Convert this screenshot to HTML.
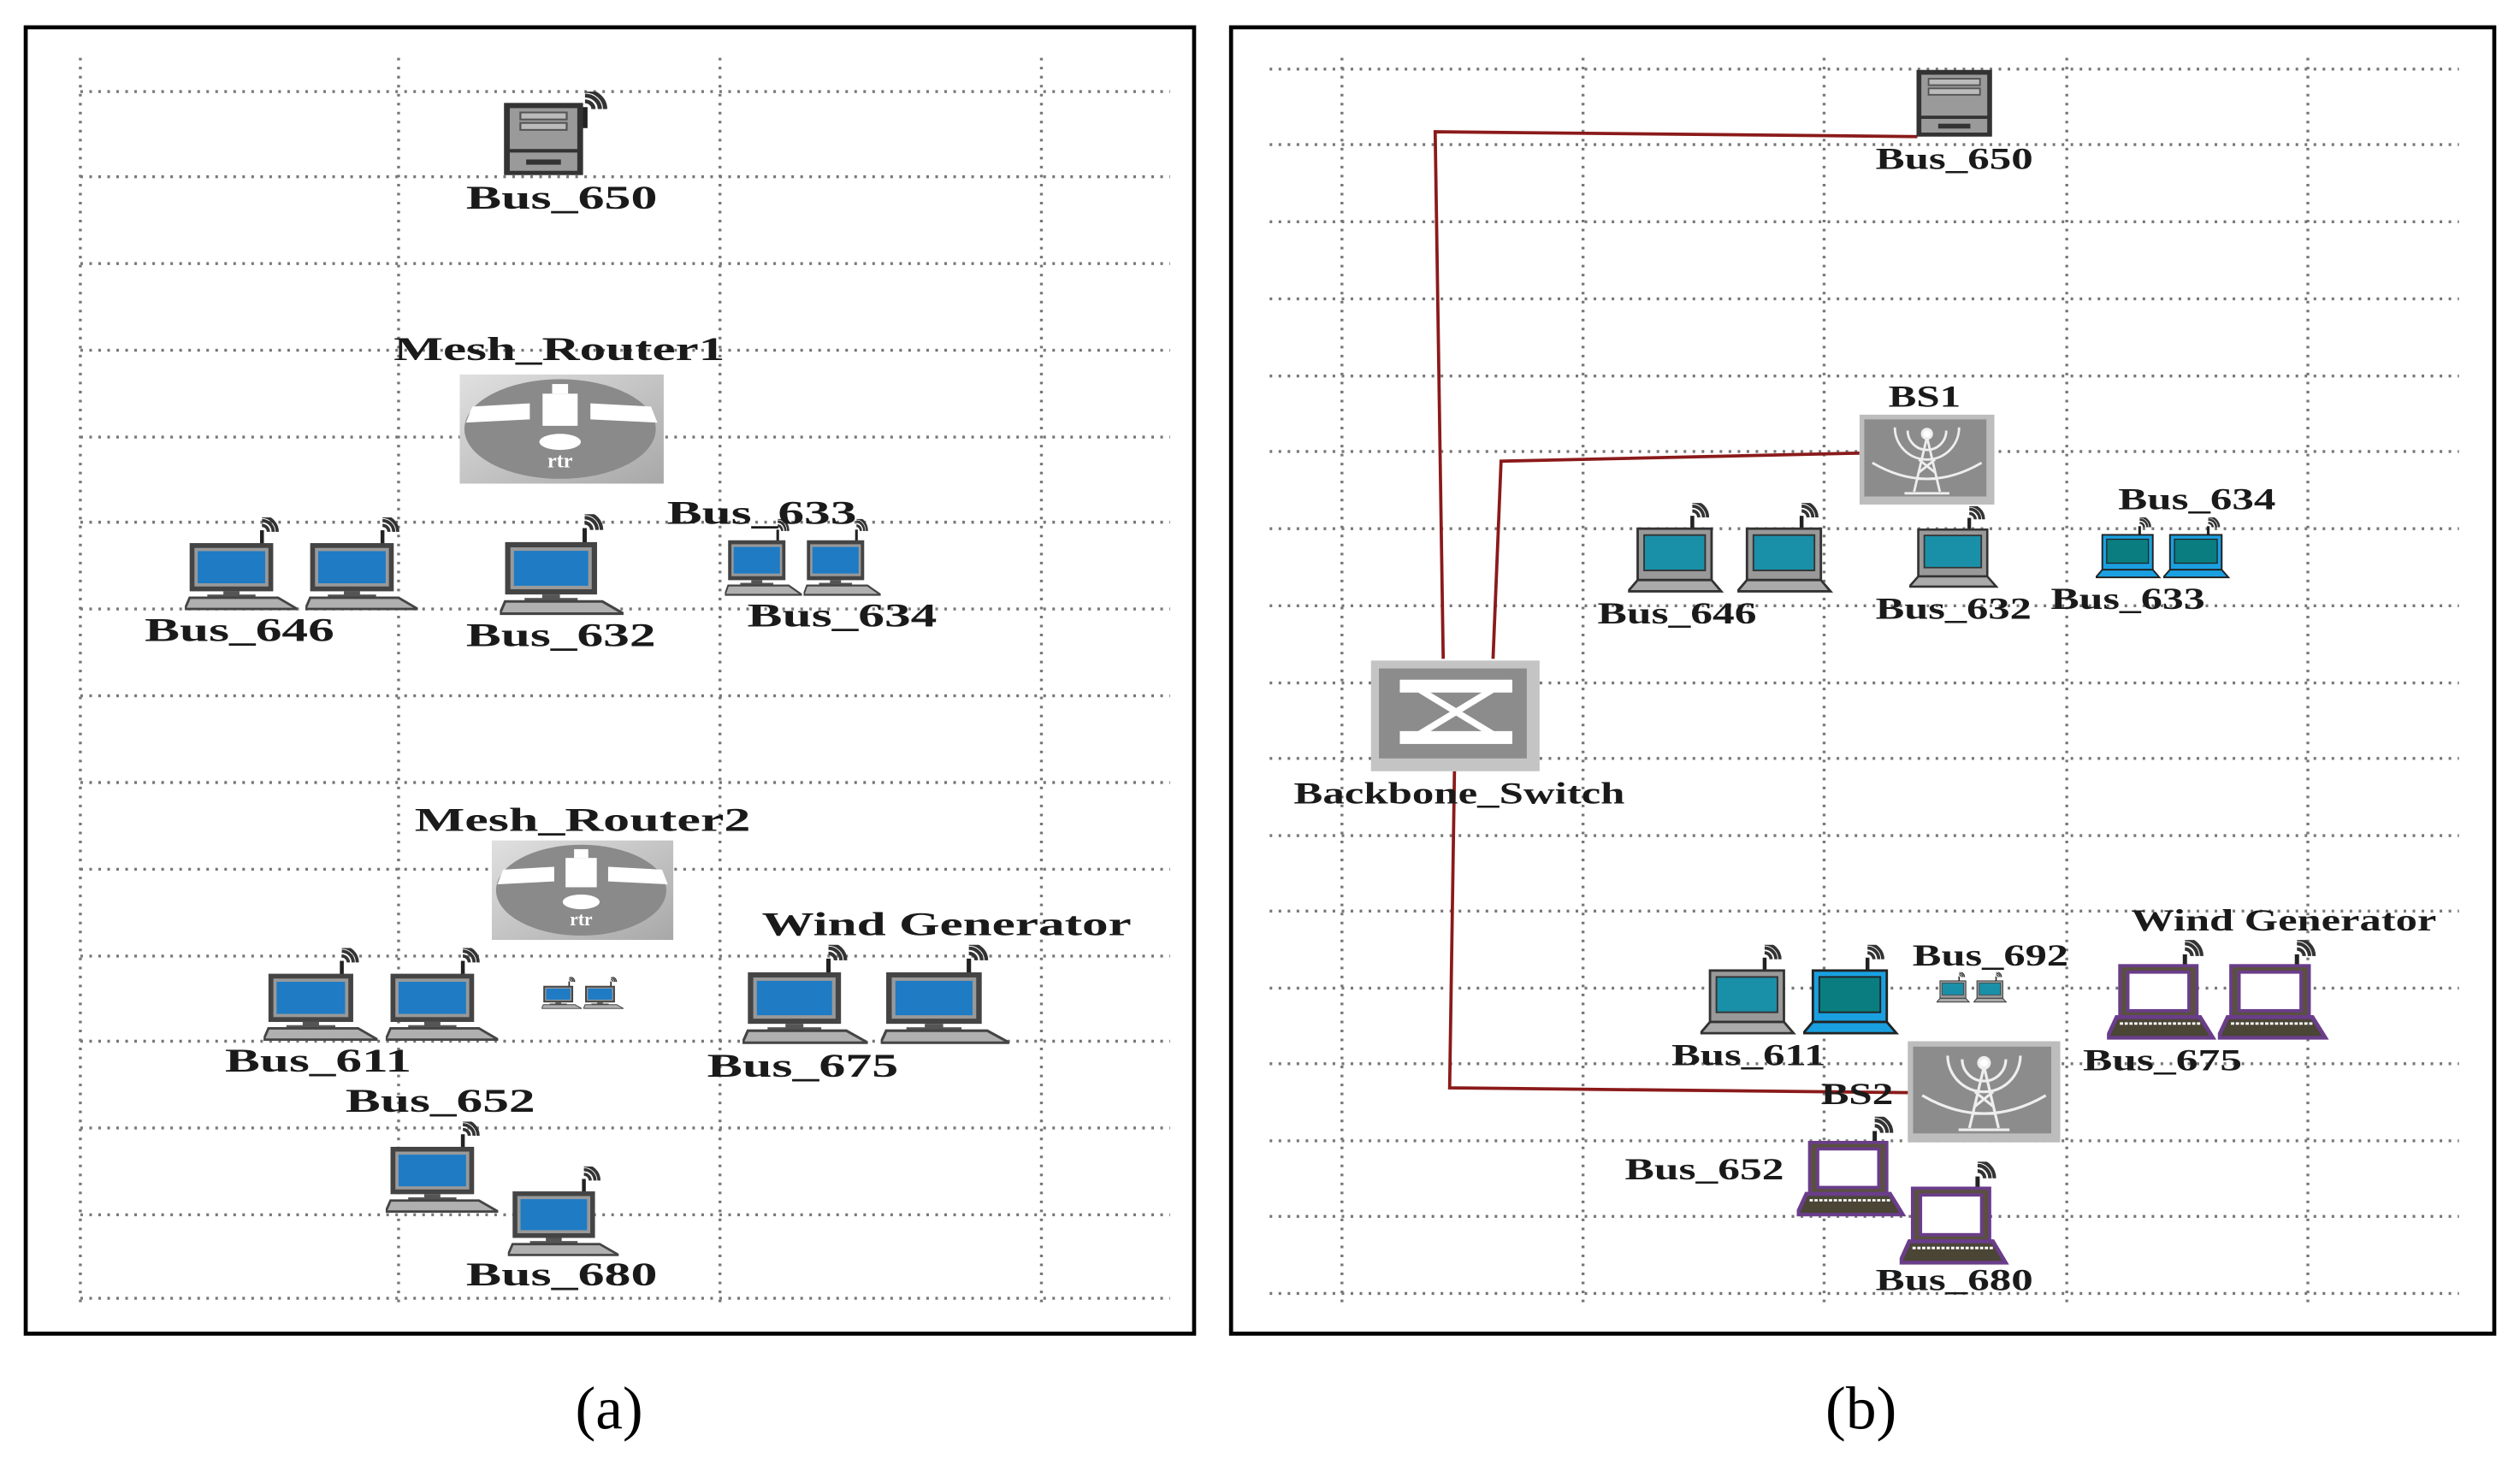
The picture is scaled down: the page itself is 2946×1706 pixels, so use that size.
<!DOCTYPE html>
<html><head><meta charset="utf-8"><style>
html,body{margin:0;padding:0;background:#fff}
svg{display:block}
text{font-family:"Liberation Serif",serif;font-weight:bold;fill:#1a1a1a}
</style></head><body>
<svg width="2946" height="1706" viewBox="0 0 1568 908" preserveAspectRatio="none" xmlns="http://www.w3.org/2000/svg">
<defs>
<symbol id="arcs" viewBox="0 0 20 20">
<line x1="5" y1="9" x2="5" y2="20" stroke="#222" stroke-width="2.4"/>
<path d="M5 6 a4 4 0 0 1 4 4 M5 3 a7 7 0 0 1 7 7 M5 0.5 a9.5 9.5 0 0 1 9.5 9.5" fill="none" stroke="#333" stroke-width="2"/>
</symbol>
<symbol id="pc" viewBox="0 0 70 58" preserveAspectRatio="none">
<use href="#arcs" x="42" y="-1" width="22" height="20"/>
<rect x="3" y="16" width="52" height="30" fill="#444"/>
<rect x="6" y="19" width="46" height="24" fill="#999"/>
<rect x="8" y="21" width="42" height="20" fill="#1e7bc4"/>
<rect x="24" y="46" width="10" height="3" fill="#555"/>
<rect x="14" y="48" width="30" height="2" fill="#555"/>
<polygon points="3,50 58,50 70,57 0,57" fill="#b0b0b0" stroke="#444" stroke-width="1.5"/>
</symbol>
<symbol id="server" viewBox="0 0 60 48" preserveAspectRatio="none">
<use href="#arcs" x="36" y="-1" width="24" height="22"/>
<rect x="2" y="8" width="38" height="39" fill="#9a9a9a" stroke="#333" stroke-width="3"/>
<rect x="9" y="12" width="24" height="4" fill="#bbb" stroke="#555"/>
<rect x="9" y="18" width="24" height="4" fill="#bbb" stroke="#555"/>
<line x1="2" y1="34" x2="40" y2="34" stroke="#333" stroke-width="2"/>
<rect x="12" y="39" width="18" height="3" fill="#333"/>
</symbol>
<symbol id="server2" viewBox="0 0 48 42" preserveAspectRatio="none">
<rect x="2" y="2" width="44" height="39" fill="#9a9a9a" stroke="#333" stroke-width="3"/>
<rect x="8" y="6" width="32" height="4" fill="#bbb" stroke="#555"/>
<rect x="8" y="12" width="32" height="4" fill="#bbb" stroke="#555"/>
<line x1="2" y1="30" x2="46" y2="30" stroke="#333" stroke-width="2"/>
<rect x="14" y="34" width="20" height="3" fill="#333"/>
</symbol>
<linearGradient id="rg" x1="0" y1="0" x2="1" y2="1"><stop offset="0" stop-color="#e0e0e0"/><stop offset="1" stop-color="#a8a8a8"/></linearGradient>
<symbol id="router" viewBox="0 0 128 68" preserveAspectRatio="none">
<rect x="0" y="0" width="128" height="68" fill="url(#rg)"/>
<ellipse cx="63" cy="34" rx="60" ry="31" fill="#8a8a8a"/>
<polygon points="8,20 44,18 44,28 4,30" fill="#fff"/>
<polygon points="82,18 120,20 124,30 82,28" fill="#fff"/>
<rect x="52" y="12" width="22" height="20" fill="#fff"/>
<rect x="58" y="6" width="10" height="6" fill="#fff"/>
<ellipse cx="63" cy="42" rx="13" ry="5" fill="#fff"/>
<text x="63" y="58" text-anchor="middle" font-size="13" style="fill:#fff">rtr</text>
</symbol>
<symbol id="tower" viewBox="0 0 84 56" preserveAspectRatio="none">
<rect x="0" y="0" width="84" height="56" fill="#bdbdbd"/>
<rect x="3" y="3" width="76" height="48" fill="#8c8c8c"/>
<g fill="none" stroke="#eee" stroke-width="1.5">
<path d="M30 10 a12 12 0 0 0 24 0 M22 8 a20 20 0 0 0 40 0 M8 30 q34 20 68 0"/>
<circle cx="42" cy="12" r="3" fill="#fff"/>
<path d="M42 14 L34 48 M42 14 L50 48 M37 28 L47 36 M47 28 L37 36 M36 40 L48 40 M28 49 L56 49"/>
</g>
</symbol>
<symbol id="switch" viewBox="0 0 105 69" preserveAspectRatio="none">
<rect x="0" y="0" width="105" height="69" fill="#c4c4c4"/>
<rect x="5" y="5" width="92" height="56" fill="#8c8c8c"/>
<rect x="18" y="12" width="70" height="8" fill="#fff"/>
<rect x="18" y="44" width="70" height="8" fill="#fff"/>
<line x1="30" y1="18" x2="76" y2="46" stroke="#fff" stroke-width="4"/>
<line x1="76" y1="18" x2="30" y2="46" stroke="#fff" stroke-width="4"/>
</symbol>
<symbol id="lapg" viewBox="0 0 60 56" preserveAspectRatio="none">
<use href="#arcs" x="34" y="-1" width="22" height="20"/>
<rect x="6" y="16" width="46" height="32" fill="#999" stroke="#333" stroke-width="1.5"/>
<rect x="10" y="20" width="38" height="22" fill="#1a8fa8" stroke="#333"/>
<polygon points="6,48 52,48 58,55 0,55" fill="#aaa" stroke="#333" stroke-width="1.5"/>
</symbol>
<symbol id="lapb" viewBox="0 0 60 56" preserveAspectRatio="none">
<use href="#arcs" x="34" y="-1" width="22" height="20"/>
<rect x="6" y="16" width="46" height="32" fill="#1aa0e0" stroke="#222" stroke-width="1.5"/>
<rect x="10" y="20" width="38" height="22" fill="#0a7d80" stroke="#222"/>
<polygon points="6,48 52,48 58,55 0,55" fill="#1aa0e0" stroke="#222" stroke-width="1.5"/>
</symbol>
<symbol id="lapp" viewBox="0 0 68 62" preserveAspectRatio="none">
<use href="#arcs" x="42" y="-1" width="24" height="22"/>
<rect x="8" y="16" width="48" height="34" fill="#5a5040" stroke="#6a3d8a" stroke-width="2"/>
<rect x="13" y="20" width="38" height="24" fill="#fff" stroke="#6a3d8a" stroke-width="2"/>
<polygon points="6,48 58,48 66,61 0,61" fill="#4a4535" stroke="#6a3d8a" stroke-width="2.5"/>
<line x1="8" y1="52" x2="58" y2="52" stroke="#fff" stroke-width="1.5" stroke-dasharray="2,1"/>
</symbol>
</defs>

<!-- panel a -->
<rect x="16" y="17" width="727" height="813" fill="#fff" stroke="#000" stroke-width="2.5"/>
<g stroke="#777" stroke-width="1.8" stroke-dasharray="1.6,4">
<line x1="50" y1="36" x2="50" y2="812"/><line x1="248" y1="36" x2="248" y2="812"/><line x1="448" y1="36" x2="448" y2="812"/><line x1="648" y1="36" x2="648" y2="812"/>
<line x1="50" y1="57" x2="728" y2="57"/><line x1="50" y1="110" x2="728" y2="110"/><line x1="50" y1="164" x2="728" y2="164"/><line x1="50" y1="218" x2="728" y2="218"/><line x1="50" y1="272" x2="728" y2="272"/><line x1="50" y1="325" x2="728" y2="325"/><line x1="50" y1="379" x2="728" y2="379"/><line x1="50" y1="433" x2="728" y2="433"/><line x1="50" y1="487" x2="728" y2="487"/><line x1="50" y1="541" x2="728" y2="541"/><line x1="50" y1="595" x2="728" y2="595"/><line x1="50" y1="648" x2="728" y2="648"/><line x1="50" y1="702" x2="728" y2="702"/><line x1="50" y1="756" x2="728" y2="756"/><line x1="50" y1="808" x2="728" y2="808"/>
</g>
<use href="#server" x="313" y="57" width="72" height="52"/>
<use href="#router" x="286" y="233" width="127" height="68"/>
<use href="#pc" x="115" y="322" width="70" height="58"/>
<use href="#pc" x="190" y="322" width="70" height="58"/>
<use href="#pc" x="311" y="320" width="77" height="63"/>
<use href="#pc" x="451" y="323" width="48" height="48"/>
<use href="#pc" x="500" y="323" width="48" height="48"/>
<use href="#router" x="306" y="523" width="113" height="62"/>
<use href="#pc" x="164" y="590" width="71" height="58"/>
<use href="#pc" x="240" y="590" width="70" height="58"/>
<use href="#pc" x="337" y="608" width="25" height="20"/>
<use href="#pc" x="363" y="608" width="25" height="20"/>
<use href="#pc" x="462" y="588" width="78" height="62"/>
<use href="#pc" x="548" y="588" width="80" height="62"/>
<use href="#pc" x="240" y="698" width="70" height="57"/>
<use href="#pc" x="316" y="726" width="69" height="56"/>
<g font-size="21">
<text x="290" y="130" textLength="119" lengthAdjust="spacingAndGlyphs">Bus_650</text>
<text x="245" y="224" textLength="206" lengthAdjust="spacingAndGlyphs">Mesh_Router1</text>
<text x="415" y="326" textLength="118" lengthAdjust="spacingAndGlyphs">Bus_633</text>
<text x="90" y="399" textLength="118" lengthAdjust="spacingAndGlyphs">Bus_646</text>
<text x="290" y="402" textLength="118" lengthAdjust="spacingAndGlyphs">Bus_632</text>
<text x="465" y="390" textLength="118" lengthAdjust="spacingAndGlyphs">Bus_634</text>
<text x="258" y="517" textLength="209" lengthAdjust="spacingAndGlyphs">Mesh_Router2</text>
<text x="474" y="582" textLength="230" lengthAdjust="spacingAndGlyphs">Wind Generator</text>
<text x="140" y="667" textLength="116" lengthAdjust="spacingAndGlyphs">Bus_611</text>
<text x="440" y="670" textLength="119" lengthAdjust="spacingAndGlyphs">Bus_675</text>
<text x="215" y="692" textLength="118" lengthAdjust="spacingAndGlyphs">Bus_652</text>
<text x="290" y="800" textLength="119" lengthAdjust="spacingAndGlyphs">Bus_680</text>
</g>
<text x="379" y="889" text-anchor="middle" font-size="38" style="font-weight:normal;fill:#000">(a)</text>

<!-- panel b -->
<rect x="766" y="17" width="786" height="813" fill="#fff" stroke="#000" stroke-width="2.5"/>
<g stroke="#777" stroke-width="1.8" stroke-dasharray="1.6,4">
<line x1="835" y1="36" x2="835" y2="812"/><line x1="985" y1="36" x2="985" y2="812"/><line x1="1135" y1="36" x2="1135" y2="812"/><line x1="1286" y1="36" x2="1286" y2="812"/><line x1="1436" y1="36" x2="1436" y2="812"/>
<line x1="790" y1="43" x2="1530" y2="43"/><line x1="790" y1="90" x2="1530" y2="90"/><line x1="790" y1="138" x2="1530" y2="138"/><line x1="790" y1="186" x2="1530" y2="186"/><line x1="790" y1="234" x2="1530" y2="234"/><line x1="790" y1="281" x2="1530" y2="281"/><line x1="790" y1="329" x2="1530" y2="329"/><line x1="790" y1="377" x2="1530" y2="377"/><line x1="790" y1="425" x2="1530" y2="425"/><line x1="790" y1="472" x2="1530" y2="472"/><line x1="790" y1="520" x2="1530" y2="520"/><line x1="790" y1="567" x2="1530" y2="567"/><line x1="790" y1="615" x2="1530" y2="615"/><line x1="790" y1="662" x2="1530" y2="662"/><line x1="790" y1="710" x2="1530" y2="710"/><line x1="790" y1="757" x2="1530" y2="757"/><line x1="790" y1="805" x2="1530" y2="805"/>
</g>
<g fill="none" stroke="#8b1a1a" stroke-width="2">
<polyline points="898,410 893,82 1193,85"/>
<polyline points="929,410 934,287 1157,282"/>
<polyline points="905,480 902,677 1188,680"/>
</g>
<use href="#server2" x="1192" y="43" width="48" height="42"/>
<use href="#tower" x="1157" y="258" width="84" height="56"/>
<use href="#lapg" x="1013" y="313" width="60" height="56"/>
<use href="#lapg" x="1081" y="313" width="60" height="56"/>
<use href="#lapg" x="1188" y="315" width="56" height="51"/>
<use href="#lapb" x="1304" y="322" width="41" height="38"/>
<use href="#lapb" x="1346" y="322" width="42" height="38"/>
<use href="#switch" x="853" y="411" width="105" height="69"/>
<use href="#lapg" x="1058" y="588" width="60" height="56"/>
<use href="#lapb" x="1122" y="588" width="60" height="56"/>
<use href="#lapg" x="1205" y="605" width="21" height="19"/>
<use href="#lapg" x="1228" y="605" width="21" height="19"/>
<use href="#lapp" x="1311" y="585" width="68" height="62"/>
<use href="#lapp" x="1380" y="585" width="69" height="62"/>
<use href="#tower" x="1187" y="648" width="95" height="63"/>
<use href="#lapp" x="1118" y="695" width="68" height="62"/>
<use href="#lapp" x="1182" y="723" width="68" height="64"/>
<g font-size="19">
<text x="1167" y="105" textLength="98" lengthAdjust="spacingAndGlyphs">Bus_650</text>
<text x="1175" y="253" textLength="45" lengthAdjust="spacingAndGlyphs">BS1</text>
<text x="1318" y="317" textLength="98" lengthAdjust="spacingAndGlyphs">Bus_634</text>
<text x="994" y="388" textLength="99" lengthAdjust="spacingAndGlyphs">Bus_646</text>
<text x="1167" y="385" textLength="97" lengthAdjust="spacingAndGlyphs">Bus_632</text>
<text x="1276" y="379" textLength="96" lengthAdjust="spacingAndGlyphs">Bus_633</text>
<text x="805" y="500" textLength="206" lengthAdjust="spacingAndGlyphs">Backbone_Switch</text>
<text x="1326" y="579" textLength="190" lengthAdjust="spacingAndGlyphs">Wind Generator</text>
<text x="1190" y="601" textLength="97" lengthAdjust="spacingAndGlyphs">Bus_692</text>
<text x="1040" y="663" textLength="96" lengthAdjust="spacingAndGlyphs">Bus_611</text>
<text x="1296" y="666" textLength="99" lengthAdjust="spacingAndGlyphs">Bus_675</text>
<text x="1133" y="687" textLength="45" lengthAdjust="spacingAndGlyphs">BS2</text>
<text x="1011" y="734" textLength="99" lengthAdjust="spacingAndGlyphs">Bus_652</text>
<text x="1167" y="803" textLength="98" lengthAdjust="spacingAndGlyphs">Bus_680</text>
</g>
<text x="1158" y="889" text-anchor="middle" font-size="38" style="font-weight:normal;fill:#000">(b)</text>
</svg>
</body></html>
